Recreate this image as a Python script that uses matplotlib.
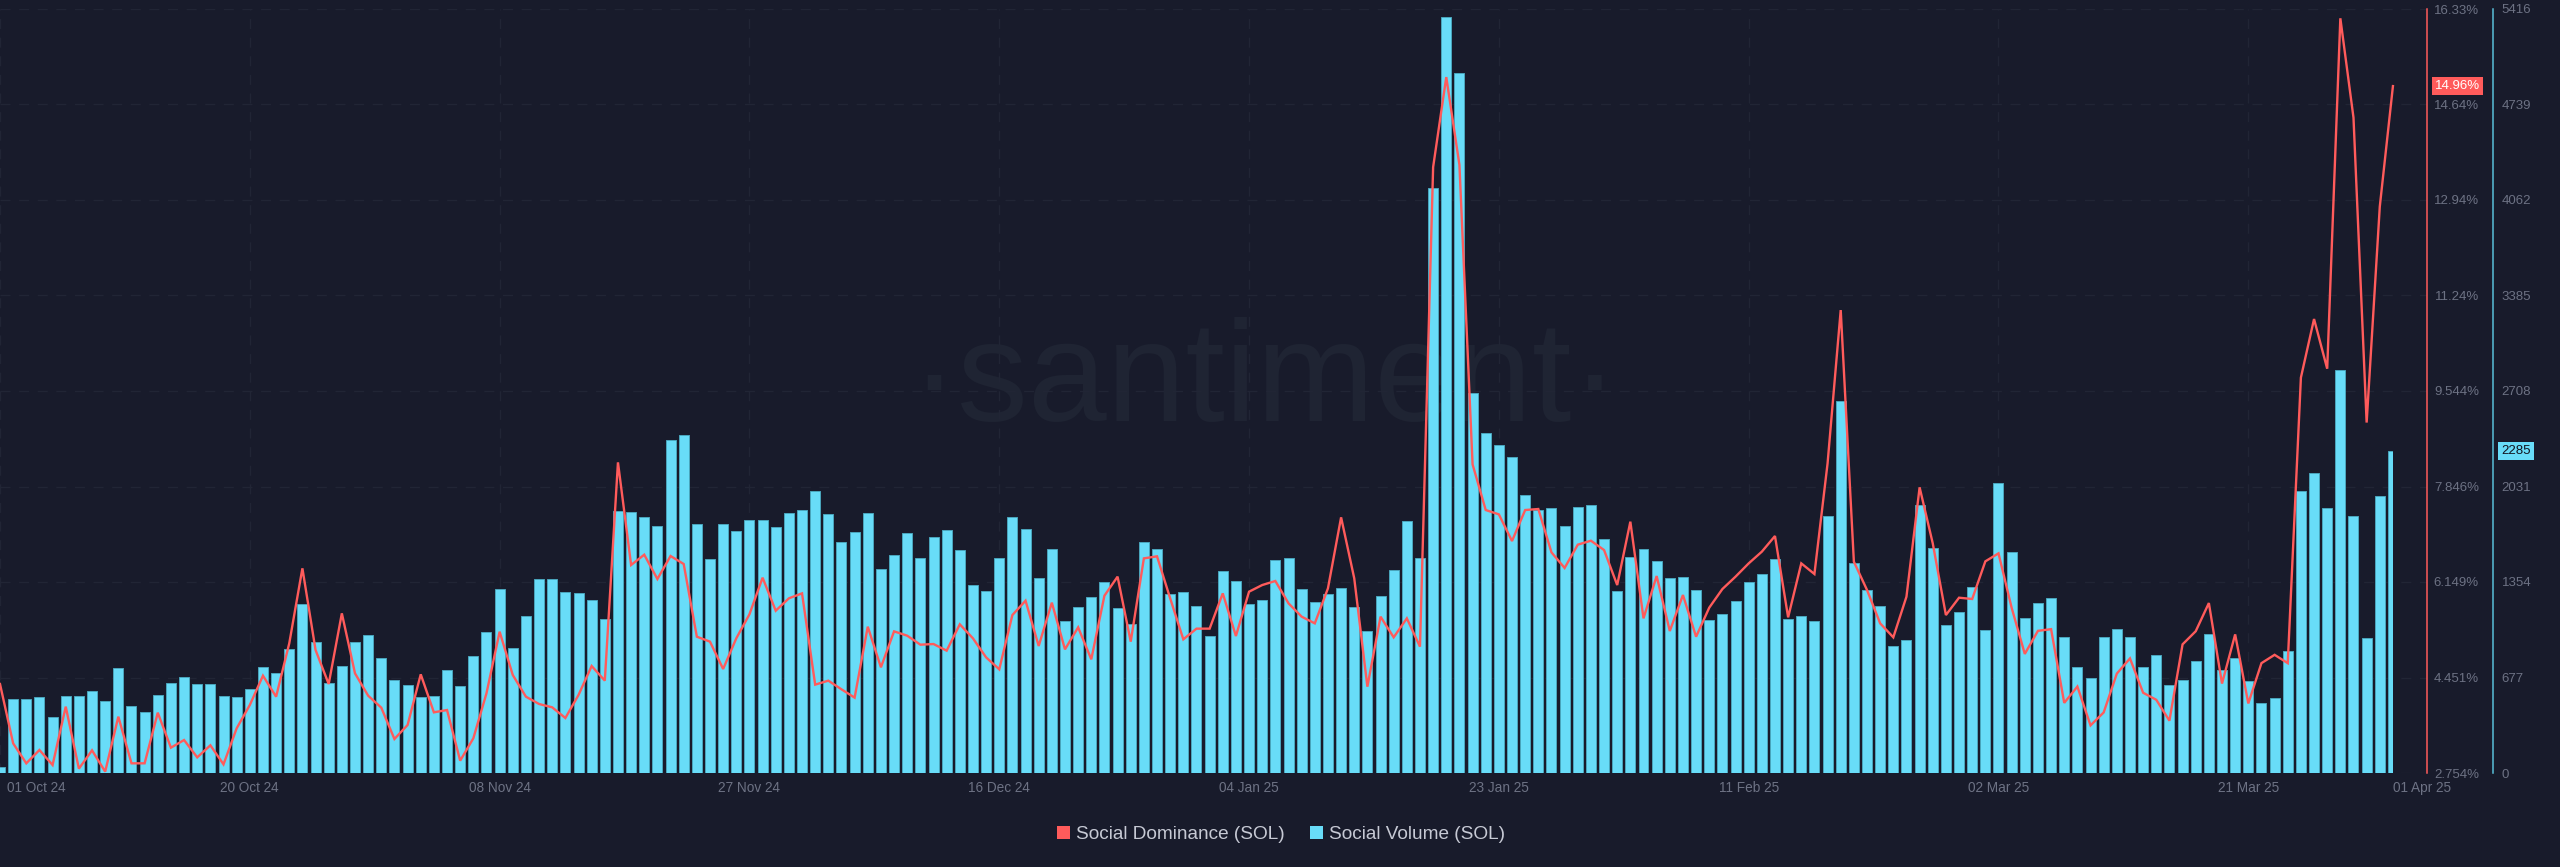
import matplotlib
matplotlib.use("Agg")
import matplotlib.pyplot as plt
import matplotlib.dates as mdates
from matplotlib.patches import Patch, Rectangle
from matplotlib.transforms import ScaledTranslation
import numpy as np
import pandas as pd

plt.rcParams['font.family'] = ['Liberation Sans', 'DejaVu Sans']

BG = '#181b2b'
GRID = '#212535'
RED = '#ff5b5b'
BLUE = '#68dcf8'
EDGE = '#4aa6bd'
TICK = '#6d7284'

dates = pd.date_range('2024-10-01', '2025-04-01', freq='D')

social_volume = [
    43, 525, 522, 541, 397, 546, 548, 579, 513, 744, 475, 430, 551, 638, 678, 629, 633, 543, 539, 595,
    749, 711, 881, 1200, 929, 638, 761, 929, 976, 813, 662, 624, 536, 548, 728, 617, 829, 1002, 1307, 886,
    1115, 1375, 1375, 1283, 1274, 1229, 1092, 1860, 1848, 1815, 1751, 2358, 2398, 1765, 1515, 1765, 1713, 1794, 1796, 1744,
    1845, 1864, 1997, 1836, 1638, 1708, 1843, 1446, 1545, 1699, 1526, 1675, 1720, 1581, 1330, 1288, 1526, 1815, 1732, 1382,
    1586, 1078, 1174, 1248, 1354, 1170, 1054, 1635, 1590, 1267, 1285, 1184, 974, 1430, 1363, 1200, 1229, 1512, 1526, 1302,
    1212, 1269, 1314, 1174, 1009, 1252, 1441, 1789, 1522, 4147, 5362, 4960, 2692, 2412, 2327, 2242, 1973, 1862, 1876, 1753,
    1886, 1902, 1661, 1293, 1531, 1588, 1505, 1385, 1387, 1297, 1082, 1130, 1219, 1356, 1413, 1519, 1094, 1113, 1075, 1824,
    2640, 1491, 1295, 1184, 900, 945, 1897, 1595, 1047, 1141, 1316, 1014, 2056, 1564, 1100, 1204, 1239, 961, 753, 672,
    961, 1019, 961, 753, 838, 623, 660, 793, 983, 727, 816, 649, 493, 530, 864, 2002, 2125, 1880, 2859, 1824,
    957, 1962, 2285,
]

social_dominance = [
    4.335, 3.281, 2.926, 3.163, 2.896, 3.933, 2.831, 3.157, 2.778, 3.755, 2.926, 2.926, 3.826, 3.204, 3.340, 3.032, 3.246, 2.908, 3.548, 3.962,
    4.483, 4.110, 5.058, 6.391, 4.940, 4.335, 5.591, 4.525, 4.128, 3.915, 3.358, 3.607, 4.507, 3.832, 3.873, 2.973, 3.370, 4.170, 5.265, 4.495,
    4.110, 3.980, 3.921, 3.731, 4.140, 4.655, 4.395, 8.274, 6.450, 6.633, 6.201, 6.610, 6.468, 5.176, 5.088, 4.602, 5.147, 5.573, 6.225, 5.638,
    5.858, 5.946, 4.324, 4.395, 4.241, 4.093, 5.354, 4.632, 5.271, 5.194, 5.034, 5.046, 4.928, 5.396, 5.147, 4.809, 4.596, 5.561, 5.816, 5.011,
    5.781, 4.951, 5.342, 4.774, 5.905, 6.243, 5.088, 6.568, 6.604, 5.858, 5.129, 5.319, 5.319, 5.946, 5.188, 5.976, 6.094, 6.166, 5.769, 5.532,
    5.413, 6.035, 7.297, 6.213, 4.288, 5.532, 5.165, 5.502, 4.999, 13.52, 15.12, 13.56, 8.238, 7.427, 7.350, 6.876, 7.427, 7.445, 6.675, 6.397,
    6.811, 6.882, 6.716, 6.094, 7.220, 5.502, 6.254, 5.277, 5.917, 5.176, 5.692, 6.023, 6.243, 6.479, 6.687, 6.965, 5.520, 6.479, 6.290, 8.256,
    10.98, 6.509, 6.006, 5.413, 5.165, 5.887, 7.830, 6.835, 5.561, 5.869, 5.846, 6.515, 6.657, 5.69, 4.87, 5.28, 5.31, 4.00, 4.29, 3.60,
    3.83, 4.52, 4.79, 4.18, 4.055, 3.683, 5.040, 5.273, 5.774, 4.343, 5.217, 3.990, 4.706, 4.854, 4.706, 9.780, 10.821, 9.938, 16.165, 14.399,
    8.981, 12.819, 14.96,
]

volume_ticks = [0, 677, 1354, 2031, 2708, 3385, 4062, 4739, 5416]
dominance_ticks = [2.754, 4.451, 6.149, 7.846, 9.544, 11.24, 12.94, 14.64, 16.33]
dominance_tick_labels = ['2.754%', '4.451%', '6.149%', '7.846%', '9.544%', '11.24%', '12.94%', '14.64%', '16.33%']
date_ticks = ['2024-10-01', '2024-10-20', '2024-11-08', '2024-11-27', '2024-12-16', '2025-01-04',
              '2025-01-23', '2025-02-11', '2025-03-02', '2025-03-21', '2025-04-01']
date_tick_labels = ['01 Oct 24', '20 Oct 24', '08 Nov 24', '27 Nov 24', '16 Dec 24', '04 Jan 25',
                    '23 Jan 25', '11 Feb 25', '02 Mar 25', '21 Mar 25', '01 Apr 25']
series_names = ['Social Dominance (SOL)', 'Social Volume (SOL)']

W, H = 2560, 867
fig = plt.figure(figsize=(W / 100, H / 100), dpi=100, facecolor=BG)
px = 72 / 100  # one pixel in points

ax_x1, ax_top, ax_bot = 2427, 9, 773
ax_vol = fig.add_axes([0, (H - ax_bot) / H, ax_x1 / W, (ax_bot - ax_top) / H])
ax_vol.set_facecolor(BG)
ax_dom = ax_vol.twinx()
ax_dom.patch.set_visible(False)

x = mdates.date2num(dates)
day_px = 13.148

# watermark
ax_vol.text(0.5212, 1 - (421 - ax_top) / (ax_bot - ax_top), '\u00b7santiment\u00b7', transform=ax_vol.transAxes,
            fontsize=102, color='#1f2433', ha='center', va='baseline', zorder=0.5)

bars = ax_vol.bar(x, social_volume, width=0.76, color=BLUE, edgecolor=EDGE, linewidth=0.7, zorder=2)
clip = Rectangle((x[0], 0), x[-1] - x[0], 5416, transform=ax_vol.transData)
for b in bars:
    b.set_clip_path(clip)

ax_dom.plot(x, social_dominance, color=RED, lw=1.7, solid_joinstyle='miter', zorder=3)

ax_vol.set_xlim(x[0], x[0] + ax_x1 / day_px)
ax_vol.set_ylim(0, 5416)
ax_dom.set_ylim(2.754, 16.33)

# x axis
tick_x = mdates.date2num(pd.to_datetime(date_ticks))
ax_vol.set_xticks(tick_x)
ax_vol.set_xticklabels(date_tick_labels)
ax_vol.tick_params(axis='x', length=0, pad=5.8, labelsize=9.8, labelcolor=TICK)
xl = ax_vol.get_xticklabels()
xl[0].set_ha('left')
xl[0].set_transform(xl[0].get_transform() + ScaledTranslation(7 / 100, 0, fig.dpi_scale_trans))
xl[-1].set_ha('left')

# grid (vertical lines stop at the last regular date)
ax_vol.set_yticks(volume_ticks)
ax_vol.grid(True, color=GRID, lw=1.0, linestyle=(0, (7.2, 6.2)), zorder=1)
ax_vol.set_axisbelow(True)
ax_vol.get_xgridlines()[-1].set_visible(False)

# y axes
ax_dom.set_yticks(dominance_ticks)
ax_dom.set_yticklabels(dominance_tick_labels)
ax_dom.tick_params(axis='y', length=0, pad=52 * px, labelsize=9.5, labelcolor=TICK)
for t in ax_dom.get_yticklabels():
    t.set_ha('right')

ax_vol.yaxis.tick_right()
ax_vol.tick_params(axis='y', length=0, pad=8.7 * px, labelsize=9.5, labelcolor=TICK)

for ax in (ax_vol, ax_dom):
    for s in ax.spines.values():
        s.set_visible(False)
ax_dom.spines['right'].set_visible(True)
ax_dom.spines['right'].set_color(RED)
ax_dom.spines['right'].set_linewidth(1.1)
ax_vol.spines['right'].set_visible(True)
ax_vol.spines['right'].set_color('#58bfd8')
ax_vol.spines['right'].set_linewidth(1.1)
ax_vol.spines['right'].set_position(('outward', 66 * px))
ax_vol.spines['right'].set_zorder(5)

# last value badges
ax_dom.annotate(f'{social_dominance[-1]:.2f}%', xy=(1, social_dominance[-1]), xycoords=ax_dom.get_yaxis_transform(),
                xytext=(30.5 * px, 0), textcoords='offset points', ha='center', va='center', fontsize=9.5,
                color='white', bbox=dict(boxstyle='square,pad=0.22', fc=RED, ec='none'), annotation_clip=False, zorder=6)
ax_vol.annotate(f'{social_volume[-1]}', xy=(1, social_volume[-1]), xycoords=ax_vol.get_yaxis_transform(),
                xytext=(89 * px, 0), textcoords='offset points', ha='center', va='center', fontsize=9.5,
                color='#12141f', bbox=dict(boxstyle='square,pad=0.22', fc=BLUE, ec='none'), annotation_clip=False, zorder=6)

handles = [Patch(facecolor=RED, edgecolor='none'), Patch(facecolor=BLUE, edgecolor='none')]
fig.legend(handles, series_names, loc='center', bbox_to_anchor=(1281 / W, 1 - 834.5 / H), ncol=2, frameon=False,
           fontsize=13.7, labelcolor='#c6c9d4', handlelength=0.68, handleheight=0.68, handletextpad=0.34,
           columnspacing=1.3, borderpad=0, borderaxespad=0)

assert len(dates) == len(social_volume) == len(social_dominance)
fig.savefig('out.png', dpi=100, facecolor=BG)
